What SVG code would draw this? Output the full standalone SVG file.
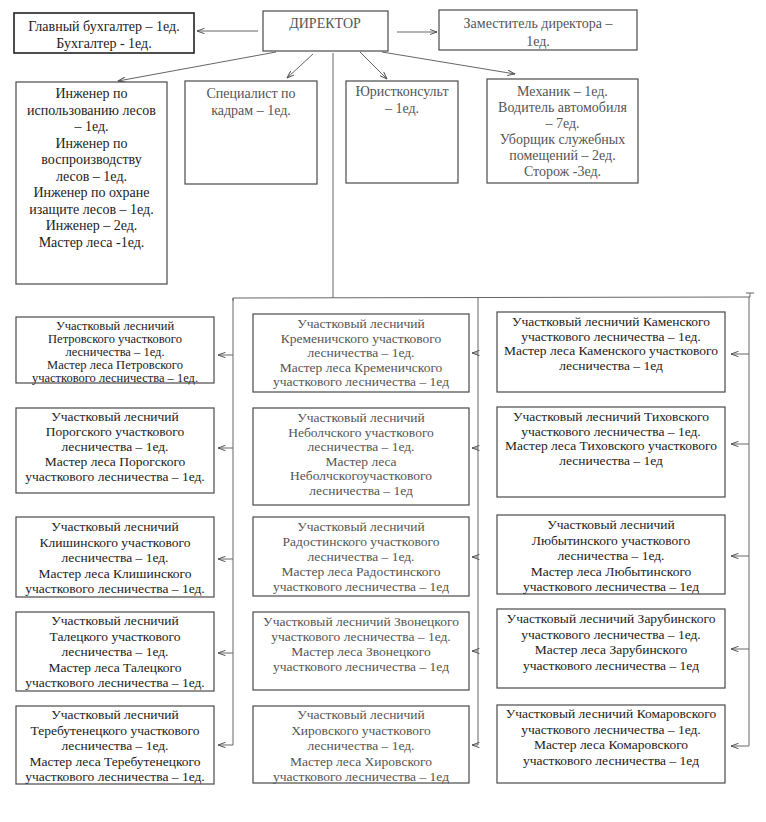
<svg xmlns="http://www.w3.org/2000/svg" width="766" height="822" viewBox="0 0 766 822">
<defs>
<style>
.box{fill:#fff;stroke:#4a4a4a;stroke-width:1.2}
.bk{stroke:#222;stroke-width:1.6}
.t{font-family:"Liberation Serif","Times New Roman",serif;font-size:14px;fill:#222;text-anchor:middle}
.s{font-size:13.5px}
.s2{font-size:12.5px}
.g{fill:#555}
.ln{fill:none;stroke:#666;stroke-width:1}
.ar{fill:none;stroke:#666;stroke-width:1;marker-end:url(#ah)}
</style>
<marker id="ah" viewBox="0 0 8 6" refX="7.5" refY="3" markerWidth="8" markerHeight="6" markerUnits="userSpaceOnUse" orient="auto">
<path d="M0,0.3 L7.5,3 L0,5.7" fill="none" stroke="#555" stroke-width="1"/>
</marker>
</defs>
<rect width="766" height="822" fill="#fff"/>

<g id="connectors">
<line class="ar" x1="258" y1="31" x2="197" y2="31"/>
<line class="ar" x1="397" y1="32" x2="437" y2="32"/>
<line class="ar" x1="276" y1="52" x2="118" y2="81"/>
<line class="ar" x1="313" y1="54" x2="287" y2="78"/>
<line class="ar" x1="360" y1="52" x2="387" y2="79"/>
<line class="ar" x1="382" y1="52" x2="515" y2="74"/>
<line class="ln" x1="333" y1="53" x2="333" y2="298"/>
<polyline class="ln" points="233,301 233,298 750,297"/>
<line class="ln" x1="750" y1="293" x2="750" y2="297"/>
<line class="ln" x1="746" y1="293" x2="754" y2="293"/>
<polyline class="ar" points="233,298 233,745 218,745"/>
<polyline class="ar" points="478,298 478,745 472,745"/>
<polyline class="ar" points="749,297 749,746 731,746"/>
<line class="ar" x1="233" y1="355" x2="218" y2="355"/>
<line class="ar" x1="233" y1="448" x2="218" y2="448"/>
<line class="ar" x1="233" y1="559" x2="218" y2="559"/>
<line class="ar" x1="233" y1="653" x2="218" y2="653"/>
<line class="ar" x1="478" y1="353" x2="472" y2="353"/>
<line class="ar" x1="478" y1="448" x2="472" y2="448"/>
<line class="ar" x1="478" y1="557" x2="472" y2="557"/>
<line class="ar" x1="478" y1="651" x2="472" y2="651"/>
<line class="ar" x1="749" y1="354" x2="731" y2="354"/>
<line class="ar" x1="749" y1="444" x2="731" y2="444"/>
<line class="ar" x1="749" y1="556" x2="731" y2="556"/>
<line class="ar" x1="749" y1="649" x2="731" y2="649"/>
</g>

<g id="glavbuh">
<rect class="box bk" x="14" y="13" width="180" height="40"/>
<text class="t" x="104" y="31">Главный бухгалтер – 1ед.</text>
<text class="t" x="104" y="48">Бухгалтер  - 1ед.</text>
</g>
<g id="director">
<rect class="box" x="263" y="11" width="125" height="40"/>
<text class="t g" x="325" y="28">ДИРЕКТОР</text>
</g>
<g id="zam">
<rect class="box" x="439" y="10" width="198" height="40"/>
<text class="t g" x="538" y="28">Заместитель директора –</text>
<text class="t g" x="538" y="46">1ед.</text>
</g>

<g id="engineers">
<rect class="box" x="16" y="82" width="151" height="202"/>
<text class="t" x="91.5" y="98">Инженер по</text>
<text class="t" x="91.5" y="114.5">использованию лесов</text>
<text class="t" x="91.5" y="131">– 1ед.</text>
<text class="t" x="91.5" y="147.5">Инженер по</text>
<text class="t" x="91.5" y="164">воспроизводству</text>
<text class="t" x="91.5" y="180.5">лесов – 1ед.</text>
<text class="t" x="91.5" y="197">Инженер по охране</text>
<text class="t" x="91.5" y="213.5">изащите лесов – 1ед.</text>
<text class="t" x="91.5" y="230">Инженер  – 2ед.</text>
<text class="t" x="91.5" y="246.5">Мастер леса -1ед.</text>
</g>
<g id="kadry">
<rect class="box" x="185" y="81" width="132" height="103"/>
<text class="t g" x="251" y="98">Специалист по</text>
<text class="t g" x="251" y="115">кадрам – 1ед.</text>
</g>
<g id="jurist">
<rect class="box" x="346" y="81" width="112" height="102"/>
<text class="t g" x="402" y="96">Юристконсульт</text>
<text class="t g" x="402" y="113">– 1ед.</text>
</g>
<g id="mechanic">
<rect class="box" x="487" y="79" width="151" height="104"/>
<text class="t g" x="562.5" y="96">Механик – 1ед.</text>
<text class="t g" x="562.5" y="112">Водитель автомобиля</text>
<text class="t g" x="562.5" y="128">– 7ед.</text>
<text class="t g" x="562.5" y="144">Уборщик служебных</text>
<text class="t g" x="562.5" y="160">помещений – 2ед.</text>
<text class="t g" x="562.5" y="176">Сторож -3ед.</text>
</g>

<g id="petrovsky">
<rect class="box" x="16" y="317" width="198" height="66"/>
<text class="t s2" x="115" y="329.5">Участковый лесничий</text>
<text class="t s2" x="115" y="342.5">Петровского участкового</text>
<text class="t s2" x="115" y="355.5">лесничества – 1ед.</text>
<text class="t s2" x="115" y="368.5">Мастер леса Петровского</text>
<text class="t s2" x="115" y="381.5">участкового лесничества – 1ед.</text>
</g>
<g id="porog">
<rect class="box" x="16" y="408" width="198" height="85"/>
<text class="t s" x="115" y="421">Участковый лесничий</text>
<text class="t s" x="115" y="436">Порогского участкового</text>
<text class="t s" x="115" y="451">лесничества – 1ед.</text>
<text class="t s" x="115" y="466">Мастер леса Порогского</text>
<text class="t s" x="115" y="481">участкового лесничества – 1ед.</text>
</g>
<g id="klishin">
<rect class="box" x="16" y="517" width="198" height="80"/>
<text class="t s" x="115" y="531">Участковый лесничий</text>
<text class="t s" x="115" y="546.5">Клишинского участкового</text>
<text class="t s" x="115" y="562">лесничества – 1ед.</text>
<text class="t s" x="115" y="577.5">Мастер леса Клишинского</text>
<text class="t s" x="115" y="593">участкового лесничества – 1ед.</text>
</g>
<g id="talets">
<rect class="box" x="16" y="612" width="198" height="79"/>
<text class="t s" x="115" y="625">Участковый лесничий</text>
<text class="t s" x="115" y="640.5">Талецкого участкового</text>
<text class="t s" x="115" y="656">лесничества – 1ед.</text>
<text class="t s" x="115" y="671.5">Мастер леса Талецкого</text>
<text class="t s" x="115" y="687">участкового лесничества – 1ед.</text>
</g>
<g id="terebut">
<rect class="box" x="16" y="706" width="198" height="78"/>
<text class="t s" x="115" y="719">Участковый лесничий</text>
<text class="t s" x="115" y="734.5">Теребутенецкого участкового</text>
<text class="t s" x="115" y="750">лесничества – 1ед.</text>
<text class="t s" x="115" y="765.5">Мастер леса Теребутенецкого</text>
<text class="t s" x="115" y="781">участкового лесничества – 1ед.</text>
</g>

<g id="kremenich">
<rect class="box" x="253" y="314" width="216" height="78"/>
<text class="t s g" x="361" y="328">Участковый лесничий</text>
<text class="t s g" x="361" y="342.5">Кременичского участкового</text>
<text class="t s g" x="361" y="357">лесничества – 1ед.</text>
<text class="t s g" x="361" y="371.5">Мастер леса Кременичского</text>
<text class="t s g" x="361" y="386">участкового лесничества – 1ед</text>
</g>
<g id="nebolch">
<rect class="box" x="253" y="408" width="216" height="97"/>
<text class="t s g" x="361" y="422">Участковый лесничий</text>
<text class="t s g" x="361" y="436.5">Неболчского участкового</text>
<text class="t s g" x="361" y="451">лесничества – 1ед.</text>
<text class="t s g" x="361" y="465.5">Мастер леса</text>
<text class="t s g" x="361" y="480">Неболчскогоучасткового</text>
<text class="t s g" x="361" y="494.5">лесничества – 1ед</text>
</g>
<g id="radostin">
<rect class="box" x="253" y="517" width="216" height="79"/>
<text class="t s g" x="361" y="531">Участковый лесничий</text>
<text class="t s g" x="361" y="546">Радостинского участкового</text>
<text class="t s g" x="361" y="561">лесничества – 1ед.</text>
<text class="t s g" x="361" y="576">Мастер леса Радостинского</text>
<text class="t s g" x="361" y="591">участкового лесничества – 1ед</text>
</g>
<g id="zvonets">
<rect class="box" x="253" y="612" width="216" height="78"/>
<text class="t s g" x="361" y="626">Участковый лесничий Звонецкого</text>
<text class="t s g" x="361" y="641">участкового лесничества – 1ед.</text>
<text class="t s g" x="361" y="656">Мастер леса Звонецкого</text>
<text class="t s g" x="361" y="671">участкового лесничества – 1ед</text>
</g>
<g id="khirov">
<rect class="box" x="253" y="706" width="216" height="77"/>
<text class="t s g" x="361" y="719">Участковый лесничий</text>
<text class="t s g" x="361" y="734.5">Хировского участкового</text>
<text class="t s g" x="361" y="750">лесничества – 1ед.</text>
<text class="t s g" x="361" y="765.5">Мастер леса Хировского</text>
<text class="t s g" x="361" y="781">участкового лесничества – 1ед</text>
</g>

<g id="kamensky">
<rect class="box" x="497" y="312" width="228" height="80"/>
<text class="t s" x="611" y="326">Участковый лесничий Каменского</text>
<text class="t s" x="611" y="340.5">участкового лесничества – 1ед.</text>
<text class="t s" x="611" y="355">Мастер леса Каменского участкового</text>
<text class="t s" x="611" y="369.5">лесничества – 1ед</text>
</g>
<g id="tikhov">
<rect class="box" x="497" y="407" width="228" height="90"/>
<text class="t s" x="611" y="421">Участковый лесничий Тиховского</text>
<text class="t s" x="611" y="435.5">участкового лесничества – 1ед.</text>
<text class="t s" x="611" y="450">Мастер леса Тиховского участкового</text>
<text class="t s" x="611" y="464.5">лесничества – 1ед</text>
</g>
<g id="lyubytin">
<rect class="box" x="497" y="515" width="228" height="79"/>
<text class="t s" x="611" y="529">Участковый лесничий</text>
<text class="t s" x="611" y="544.5">Любытинского участкового</text>
<text class="t s" x="611" y="560">лесничества – 1ед.</text>
<text class="t s" x="611" y="575.5">Мастер леса Любытинского</text>
<text class="t s" x="611" y="591">участкового лесничества – 1ед</text>
</g>
<g id="zarubin">
<rect class="box" x="497" y="609" width="228" height="79"/>
<text class="t s" x="611" y="623">Участковый лесничий Зарубинского</text>
<text class="t s" x="611" y="638.5">участкового лесничества – 1ед.</text>
<text class="t s" x="611" y="654">Мастер леса Зарубинского</text>
<text class="t s" x="611" y="669.5">участкового лесничества – 1ед</text>
</g>
<g id="komarov">
<rect class="box" x="497" y="705" width="228" height="78"/>
<text class="t s" x="611" y="718">Участковый лесничий Комаровского</text>
<text class="t s" x="611" y="733.5">участкового лесничества – 1ед.</text>
<text class="t s" x="611" y="749">Мастер леса Комаровского</text>
<text class="t s" x="611" y="764.5">участкового лесничества – 1ед</text>
</g>
</svg>
